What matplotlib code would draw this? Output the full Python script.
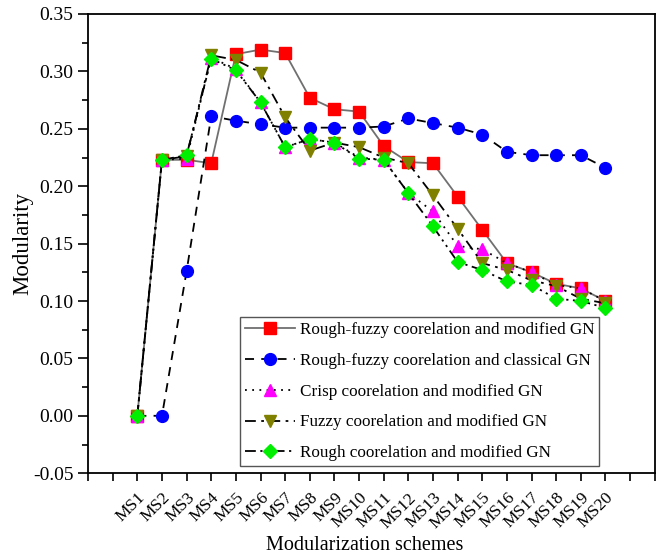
import matplotlib.pyplot as plt
from matplotlib.ticker import MultipleLocator

plt.rcParams["font.family"] = ["Liberation Serif", "DejaVu Serif"]

schemes = ["MS%d" % i for i in range(1, 21)]

rough_fuzzy_mod = [0.000, 0.223, 0.223, 0.220, 0.315, 0.319, 0.316, 0.277, 0.267, 0.265,
                   0.235, 0.221, 0.220, 0.191, 0.162, 0.133, 0.125, 0.115, 0.111, 0.100]
rough_fuzzy_cls = [0.000, 0.000, 0.126, 0.261, 0.257, 0.254, 0.251, 0.251, 0.251, 0.251,
                   0.252, 0.259, 0.255, 0.251, 0.245, 0.230, 0.227, 0.227, 0.227, 0.216]
crisp_mod = [0.000, 0.223, 0.224, 0.312, 0.302, 0.273, 0.234, 0.241, 0.238, 0.225,
             0.223, 0.194, 0.178, 0.148, 0.145, 0.133, 0.125, 0.114, 0.111, 0.100]
fuzzy_mod = [0.000, 0.223, 0.226, 0.314, 0.310, 0.299, 0.260, 0.231, 0.238, 0.234,
             0.225, 0.220, 0.192, 0.163, 0.133, 0.127, 0.118, 0.113, 0.102, 0.098]
rough_mod = [0.000, 0.223, 0.227, 0.311, 0.301, 0.273, 0.234, 0.241, 0.238, 0.224,
             0.223, 0.194, 0.165, 0.134, 0.127, 0.117, 0.114, 0.102, 0.100, 0.094]

labels = [
    "Rough-fuzzy coorelation and modified GN",
    "Rough-fuzzy coorelation and classical GN",
    "Crisp coorelation and modified GN",
    "Fuzzy coorelation and modified GN",
    "Rough coorelation and modified GN",
]

x = list(range(1, len(schemes) + 1))

fig = plt.figure(figsize=(6.62, 5.6), dpi=100)
ax = fig.add_axes([0.133, 0.155, 0.856, 0.82])

ms = 8.5
ax.plot(x, rough_fuzzy_mod, color="#707070", lw=1.3, ls="-", marker="s",
        mfc="red", mec="red", ms=ms - 0.5, label=labels[0])
ax.plot(x, rough_fuzzy_cls, color="black", lw=1.3, ls=(0, (5, 4)), marker="o",
        mfc="blue", mec="blue", ms=ms, label=labels[1])
ax.plot(x, crisp_mod, color="black", lw=1.3, ls=(0, (1, 3)), marker="^",
        mfc="magenta", mec="magenta", ms=ms, label=labels[2])
ax.plot(x, fuzzy_mod, color="black", lw=1.3, ls=(0, (6, 3, 1.5, 3)), marker="v",
        mfc="#808000", mec="#808000", ms=ms, label=labels[3])
ax.plot(x, rough_mod, color="black", lw=1.3, ls=(0, (6, 2.5, 1.2, 2.5, 1.2, 2.5)), marker="D",
        mfc="#00ee00", mec="#00ee00", ms=ms - 1, label=labels[4])

ax.set_xlim(-1, 22)
ax.set_ylim(-0.05, 0.35)
ax.set_xticks(range(-1, 23))
ax.set_xticklabels(["" if (i < 1 or i > 20) else schemes[i - 1] for i in range(-1, 23)],
                   rotation=45, ha="right", va="top", rotation_mode="anchor", fontsize=12.5)
ax.yaxis.set_major_locator(MultipleLocator(0.05))
ax.yaxis.set_minor_locator(MultipleLocator(0.025))
ax.yaxis.set_major_formatter(plt.FormatStrFormatter("%.2f"))
ax.tick_params(axis="y", direction="out", labelsize=14, width=1.2, length=7.5, pad=3)
ax.tick_params(axis="y", which="minor", direction="out", width=1.2, length=4.5)
ax.tick_params(axis="x", direction="out", width=1.2, length=6, pad=6)

for s in ax.spines.values():
    s.set_linewidth(1.3)

ax.set_xlabel("Modularization schemes", fontsize=14.5)
ax.set_ylabel("Modularity", fontsize=16.5)
ax.xaxis.set_label_coords(0.4886, -0.136)
ax.yaxis.set_label_coords(-0.097, 0.5)

leg = ax.legend(loc="lower left", bbox_to_anchor=(0.268, 0.015), fontsize=12.3,
                handlelength=2.9, labelspacing=0.86, fancybox=False, framealpha=1,
                borderpad=0.3, handletextpad=0.3, borderaxespad=0)
leg.get_frame().set_edgecolor("#555555")
leg.get_frame().set_linewidth(1.0)

fig.savefig("out.png", dpi=100)
